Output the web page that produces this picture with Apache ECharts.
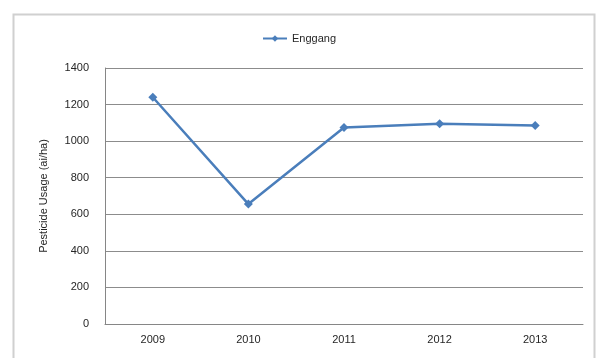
<!DOCTYPE html>
<html><head><meta charset="utf-8">
<script src="https://cdn.jsdelivr.net/npm/echarts@6/dist/echarts.min.js"></script>
<style>html,body{margin:0;padding:0;background:#fff}#c{width:598px;height:358px}</style>
</head><body><div id="c"></div>
<script>
const categories = ['2009', '2010', '2011', '2012', '2013'];
const enggang = [1240, 656, 1075, 1095, 1085];
const seriesName = 'Enggang';
const yAxisTitle = 'Pesticide Usage (ai/ha)';

const chart = echarts.init(document.getElementById('c'), null, {renderer: 'canvas'});
const font = 'Liberation Sans';
chart.setOption({
  backgroundColor: '#fff',
  animation: false,
  graphic: [{
    type: 'rect', left: 11, top: 12, z: -1,
    shape: {width: 581, height: 360},
    style: {fill: 'none', stroke: '#d0d0d0', lineWidth: 2}
  }],
  legend: {
    data: [seriesName], top: 28, left: 'center',
    itemWidth: 24, itemHeight: 8, itemGap: 4,
    textStyle: {fontFamily: font, fontSize: 11, color: '#262626'}
  },
  grid: {left: 105, right: 15, top: 68, bottom: 34, containLabel: false},
  xAxis: {
    type: 'category', data: categories, boundaryGap: true,
    axisLine: {lineStyle: {color: '#868686', width: 1}},
    axisTick: {show: false},
    axisLabel: {fontFamily: font, fontSize: 11, color: '#262626', margin: 10}
  },
  yAxis: {
    type: 'value', min: 0, max: 1400, interval: 200,
    name: yAxisTitle, nameLocation: 'middle', nameGap: 56, nameRotate: 90,
    nameTextStyle: {fontFamily: font, fontSize: 11, color: '#262626'},
    axisLine: {show: true, lineStyle: {color: '#868686'}},
    axisTick: {show: false},
    axisLabel: {fontFamily: font, fontSize: 11, color: '#262626', margin: 16,
      formatter: function (v) { return String(v); }},
    splitLine: {lineStyle: {color: '#8c8c8c', width: 1}}
  },
  series: [{
    name: seriesName, type: 'line', data: enggang,
    symbol: 'diamond', symbolSize: 9,
    lineStyle: {color: '#4a7ebb', width: 2.5},
    itemStyle: {color: '#4a7ebb'}
  }]
});
</script></body></html>
